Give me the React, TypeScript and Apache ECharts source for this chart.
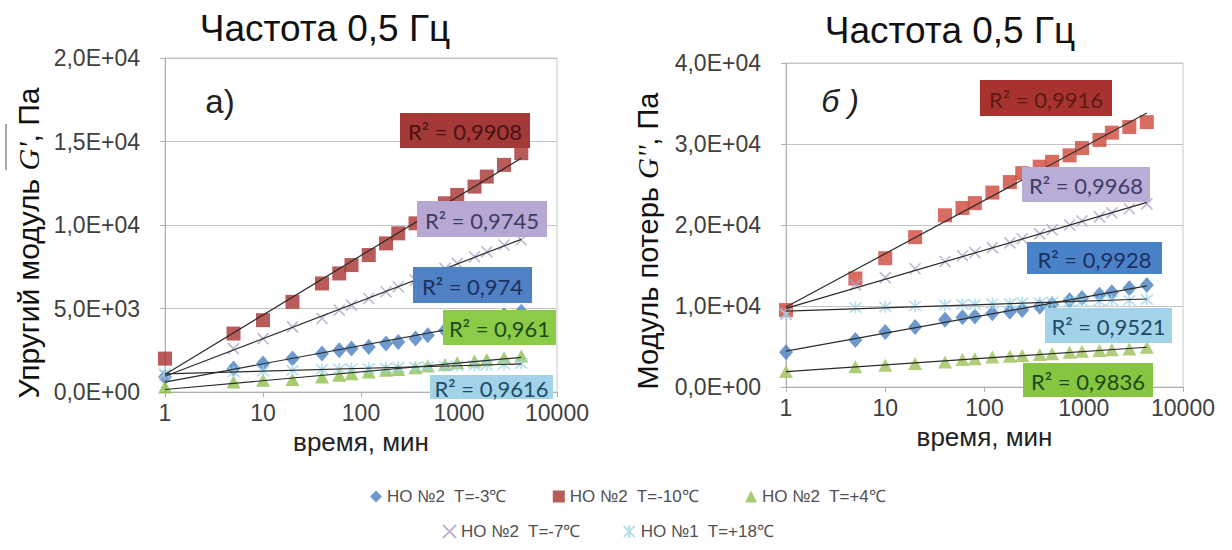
import React, { useEffect, useRef } from 'react';
import * as echarts from 'echarts';

// ---------- data ----------
const times = [1, 5, 10, 20, 40, 60, 80, 120, 180, 240, 360, 480, 720, 960, 1440, 1920, 2880, 4320];

const seriesNames = ['HO №2  T=-3℃', 'HO №2  T=-10℃', 'HO №2  T=+4℃', 'HO №2  T=-7℃', 'HO №1  T=+18℃'];

// G' (elastic modulus), Pa
const gStoreM3 = [900, 1400, 1700, 2000, 2300, 2500, 2600, 2700, 2900, 3000, 3200, 3400, 3700, 3900, 4100, 4300, 4600, 4800];
const gStoreM10 = [2000, 3500, 4300, 5400, 6500, 7100, 7600, 8200, 8900, 9500, 10100, 10700, 11300, 11800, 12300, 12900, 13600, 14300];
const gStoreP4 = [300, 600, 700, 750, 900, 1000, 1100, 1200, 1300, 1350, 1450, 1550, 1650, 1750, 1850, 1950, 2050, 2150];
const gStoreM7 = [1000, 2600, 3200, 3900, 4400, 4900, 5200, 5600, 6000, 6300, 6700, 7000, 7400, 7700, 8100, 8400, 8800, 9100];
const gStoreP18 = [1100, 1200, 1250, 1300, 1350, 1380, 1400, 1420, 1450, 1480, 1500, 1520, 1550, 1570, 1600, 1620, 1650, 1700];

// G'' (loss modulus), Pa
const gLossM3 = [4300, 5800, 6800, 7400, 8300, 8600, 8700, 9100, 9300, 9500, 9900, 10200, 10700, 11000, 11400, 11700, 12200, 12600];
const gLossM10 = [9500, 13400, 15900, 18500, 21200, 22100, 22700, 24000, 25300, 26400, 27200, 27800, 28600, 29500, 30500, 31400, 32100, 32700];
const gLossP4 = [1900, 2500, 2700, 2900, 3100, 3400, 3500, 3700, 3800, 3900, 4000, 4100, 4300, 4400, 4500, 4600, 4700, 4900];
const gLossM7 = [9000, 12600, 13500, 14600, 15500, 16200, 16600, 17200, 17800, 18300, 18900, 19400, 20000, 20500, 21000, 21500, 22000, 22600];
const gLossP18 = [9000, 9800, 9900, 10000, 10100, 10200, 10200, 10300, 10300, 10400, 10400, 10500, 10500, 10600, 10600, 10700, 10700, 10800];

const r2Left = ['0,974', '0,9908', '0,961', '0,9745', '0,9616'];
const r2Right = ['0,9928', '0,9916', '0,9836', '0,9968', '0,9521'];

const xTicks = [1, 10, 100, 1000, 10000];

// ---------- styles / layout ----------
const X_PATH = 'path://M0,0L10,10M10,0L0,10';
const STAR_PATH = 'path://M0,0L10,10M10,0L0,10M5,-1L5,11';
const symbols = ['diamond', 'rect', 'triangle', X_PATH, STAR_PATH];
const symbolSizes = [[14, 16], 14, [14, 13], 11, 12];
const colorsLeft = ['#4a7fbf', '#a8322f', '#8fbf4a', '#b0a4c8', '#9fd4ea'];
const colorsRight = ['#4a7fbf', '#cf473b', '#9cc05a', '#b0a4c8', '#9fd4ea'];

const labelsLeft = [
  { i: 1, x: 400, y: 113, w: 130, h: 35, bg: '#a33a37', fg: '#4a1212' },
  { i: 3, x: 417, y: 201, w: 130, h: 36, bg: '#b6a8d3', fg: '#3d3d63' },
  { i: 0, x: 413, y: 267, w: 119, h: 36, bg: '#4f81c4', fg: '#1d2f5c' },
  { i: 2, x: 443, y: 310, w: 113, h: 35, bg: '#8ccb47', fg: '#1d4a1a' },
  { i: 4, x: 430, y: 375, w: 123, h: 24, bg: '#a3d3e8', fg: '#1f4a6a' },
];
const labelsRight = [
  { i: 1, x: 980, y: 80, w: 132, h: 36, bg: '#a8332e', fg: '#5b1a16' },
  { i: 3, x: 1022, y: 167, w: 128, h: 35, bg: '#b9acd6', fg: '#3e3d66' },
  { i: 0, x: 1027, y: 242, w: 135, h: 32, bg: '#4a82c9', fg: '#1c2f5e' },
  { i: 4, x: 1045, y: 308, w: 127, h: 35, bg: '#a3d3e8', fg: '#1f4a6a' },
  { i: 2, x: 1023, y: 363, w: 130, h: 34, bg: '#86c540', fg: '#1d4a1a' },
];

function sci(v: number): string {
  if (v === 0) return '0,0E+00';
  const e = Math.floor(Math.log10(Math.abs(v)) + 1e-9);
  const m = v / Math.pow(10, e);
  return m.toFixed(1).replace('.', ',') + 'E' + (e >= 0 ? '+' : '-') + String(Math.abs(e)).padStart(2, '0');
}

function logFit(xs: number[], ys: number[]) {
  const lx = xs.map((x) => Math.log10(x));
  const n = xs.length;
  const mx = lx.reduce((a, b) => a + b, 0) / n;
  const my = ys.reduce((a, b) => a + b, 0) / n;
  let sxy = 0;
  let sxx = 0;
  for (let k = 0; k < n; k++) {
    sxy += (lx[k] - mx) * (ys[k] - my);
    sxx += (lx[k] - mx) * (lx[k] - mx);
  }
  const a = sxy / sxx;
  const b = my - a * mx;
  return (x: number) => a * Math.log10(x) + b;
}

const FONT = '"Liberation Sans", Arial, sans-serif';
const LABEL_FONT = 'Lato, "Liberation Sans", sans-serif';

function buildSeries(sets: number[][], colors: string[], gi: number) {
  const out: any[] = [];
  sets.forEach((ys, k) => {
    const isLine = k >= 3;
    out.push({
      type: 'scatter',
      name: seriesNames[k],
      xAxisIndex: gi,
      yAxisIndex: gi,
      symbol: symbols[k],
      symbolSize: symbolSizes[k],
      data: times.map((t, j) => [t, ys[j]]),
      itemStyle: isLine
        ? { color: 'rgba(0,0,0,0)', borderColor: colors[k], borderWidth: 1.6 }
        : { color: colors[k] },
      z: 3,
    });
  });
  sets.forEach((ys, k) => {
    const f = logFit(times, ys);
    const x0 = times[0];
    const x1 = times[times.length - 1];
    out.push({
      type: 'line',
      name: 'trend ' + k,
      xAxisIndex: gi,
      yAxisIndex: gi,
      showSymbol: false,
      symbol: 'none',
      silent: true,
      data: [[x0, f(x0)], [x1, f(x1)]],
      lineStyle: { color: '#2b2b2b', width: 1.2 },
      z: 5,
    });
  });
  return out;
}

function labelGraphics(list: any[], r2: string[]) {
  const g: any[] = [];
  list.forEach((l) => {
    g.push({
      type: 'rect',
      z: 100,
      shape: { x: l.x, y: l.y, width: l.w, height: l.h },
      style: { fill: l.bg },
    });
    g.push({
      type: 'text',
      z: 101,
      x: l.x + l.w / 2,
      y: l.y + l.h / 2 + 1,
      style: {
        text: 'R² = ' + r2[l.i],
        fill: l.fg,
        font: '22px ' + LABEL_FONT,
        align: 'center',
        verticalAlign: 'middle',
      },
    });
  });
  return g;
}

const axisLabelStyle = { color: '#404040', fontSize: 23, fontFamily: FONT };

function xAxisCfg(gi: number) {
  return {
    type: 'log',
    logBase: 10,
    gridIndex: gi,
    min: xTicks[0],
    max: xTicks[xTicks.length - 1],
    name: 'время, мин',
    nameLocation: 'middle',
    nameGap: 34,
    nameTextStyle: { color: '#222', fontSize: 26, fontFamily: FONT },
    axisLine: { lineStyle: { color: '#b0b0b0' } },
    axisTick: { show: true, length: 5, lineStyle: { color: '#b0b0b0' } },
    minorTick: { show: false },
    splitLine: { show: false },
    axisLabel: { ...axisLabelStyle, margin: 9, formatter: (v: number) => String(Math.round(v)) },
  };
}

function yAxisCfg(gi: number, max: number, interval: number) {
  return {
    type: 'value',
    gridIndex: gi,
    min: 0,
    max,
    interval,
    axisLine: { show: true, lineStyle: { color: '#b0b0b0' } },
    axisTick: { show: true, length: 5, lineStyle: { color: '#b0b0b0' } },
    splitLine: { show: true, lineStyle: { color: '#c4c4c4' } },
    axisLabel: { ...axisLabelStyle, margin: 25, formatter: (v: number) => sci(v) },
  };
}

const legendText = { color: '#505050', fontSize: 17, fontFamily: FONT };

export default function App() {
  const ref = useRef<HTMLDivElement>(null);
  useEffect(() => {
    if (!ref.current) return;
    const chart = echarts.init(ref.current, null, { renderer: 'svg' });
    const option: any = {
      animation: false,
      backgroundColor: '#ffffff',
      grid: [
        { left: 165, top: 58, width: 392, height: 334, show: true, borderColor: '#c8c8c8', backgroundColor: '#fff' },
        { left: 786, top: 63, width: 397, height: 324, show: true, borderColor: '#c8c8c8', backgroundColor: '#fff' },
      ],
      xAxis: [xAxisCfg(0), xAxisCfg(1)],
      yAxis: [yAxisCfg(0, 20000, 5000), yAxisCfg(1, 40000, 10000)],
      legend: [
        {
          data: seriesNames.slice(0, 3),
          top: 483,
          left: 365,
          itemWidth: 12,
          itemHeight: 12,
          itemGap: 46,
          textStyle: legendText,
        },
        {
          data: seriesNames.slice(3),
          top: 518,
          left: 437,
          itemWidth: 13,
          itemHeight: 13,
          itemGap: 42,
          textStyle: legendText,
        },
      ],
      series: [
        ...buildSeries([gStoreM3, gStoreM10, gStoreP4, gStoreM7, gStoreP18], colorsLeft, 0),
        ...buildSeries([gLossM3, gLossM10, gLossP4, gLossM7, gLossP18], colorsRight, 1),
      ],
      graphic: [
        {
          type: 'text', x: 325, y: 28, z: 100,
          style: { text: 'Частота 0,5 Гц', font: '37px ' + FONT, fill: '#111', align: 'center', verticalAlign: 'middle' },
        },
        {
          type: 'text', x: 950, y: 30, z: 100,
          style: { text: 'Частота 0,5 Гц', font: '37px ' + FONT, fill: '#111', align: 'center', verticalAlign: 'middle' },
        },
        {
          type: 'text', x: 220, y: 101, z: 100,
          style: { text: 'a)', font: '33px ' + FONT, fill: '#222', align: 'center', verticalAlign: 'middle' },
        },
        {
          type: 'text', x: 840, y: 101, z: 100,
          style: { text: 'б )', font: 'italic 32px ' + FONT, fill: '#222', align: 'center', verticalAlign: 'middle' },
        },
        {
          type: 'text', x: 28, y: 243, rotation: Math.PI / 2, z: 100,
          style: {
            text: "Упругий модуль {g|G'}, Па",
            font: '30px ' + FONT,
            fill: '#111',
            align: 'center',
            verticalAlign: 'middle',
            rich: { g: { fontFamily: '"Liberation Serif", serif', fontStyle: 'italic', fontSize: 30, fill: '#111' } },
          },
        },
        {
          type: 'line', z: 100,
          shape: { x1: 6, y1: 124, x2: 6, y2: 170 },
          style: { stroke: '#8a8a8a', lineWidth: 1.5 },
        },
        {
          type: 'text', x: 648, y: 241, rotation: Math.PI / 2, z: 100,
          style: {
            text: "Модуль потерь {g|G''}, Па",
            font: '29px ' + FONT,
            fill: '#111',
            align: 'center',
            verticalAlign: 'middle',
            rich: { g: { fontFamily: '"Liberation Serif", serif', fontStyle: 'italic', fontSize: 29, fill: '#111' } },
          },
        },
        ...labelGraphics(labelsLeft, r2Left),
        ...labelGraphics(labelsRight, r2Right),
      ],
    };
    chart.setOption(option);
    return () => chart.dispose();
  }, []);
  return <div ref={ref} style={{ position: 'fixed', left: 0, top: 0, width: 1232, height: 550, background: '#fff' }} />;
}
